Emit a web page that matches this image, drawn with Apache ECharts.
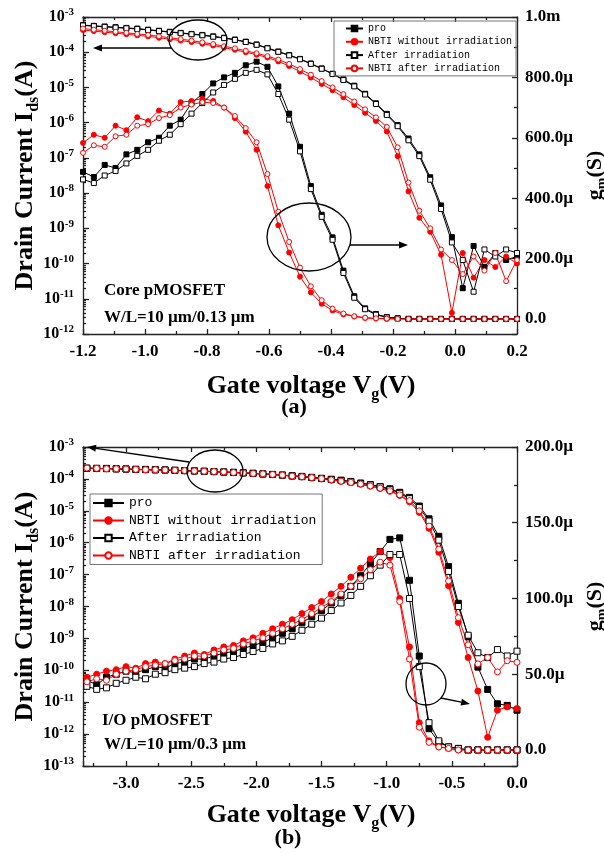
<!DOCTYPE html>
<html>
<head>
<meta charset="utf-8">
<script src="https://cdn.jsdelivr.net/npm/echarts@6/dist/echarts.min.js"></script>
<style>html,body{margin:0;padding:0;background:#fff}#chart{width:604px;height:854px}</style>
</head>
<body>
<div id="chart"></div>
<script>
// (a) Core pMOSFET: gate voltage (V)
const vgA = [-1.2, -1.165, -1.13, -1.095, -1.06, -1.025, -0.99, -0.955, -0.92, -0.885, -0.85, -0.815, -0.78, -0.745, -0.71, -0.675, -0.64, -0.605, -0.57, -0.535, -0.5, -0.465, -0.43, -0.395, -0.36, -0.325, -0.29, -0.255, -0.22, -0.185, -0.15, -0.115, -0.08, -0.045, -0.01, 0.025, 0.06, 0.095, 0.13, 0.165, 0.2];
// log10(Ids / A)
const idProA = [-3.23, -3.25, -3.27, -3.29, -3.31, -3.33, -3.36, -3.39, -3.42, -3.45, -3.48, -3.51, -3.55, -3.59, -3.64, -3.70, -3.78, -3.88, -3.98, -4.08, -4.19, -4.32, -4.46, -4.61, -4.77, -4.95, -5.18, -5.45, -5.75, -6.07, -6.45, -6.90, -7.55, -8.35, -9.25, -10.70, -9.50, -10.10, -9.70, -9.90, -9.80];
const idNbtiA = [-3.37, -3.40, -3.43, -3.46, -3.49, -3.52, -3.55, -3.59, -3.63, -3.67, -3.71, -3.76, -3.81, -3.87, -3.93, -4.00, -4.07, -4.15, -4.26, -4.39, -4.55, -4.72, -4.90, -5.08, -5.28, -5.50, -5.72, -5.95, -6.25, -6.95, -7.95, -8.70, -9.10, -9.75, -11.40, -9.70, -10.40, -9.90, -10.10, -9.80, -10.00];
const idAfterA = [-3.24, -3.26, -3.28, -3.30, -3.32, -3.34, -3.37, -3.40, -3.43, -3.46, -3.49, -3.52, -3.56, -3.60, -3.65, -3.71, -3.79, -3.89, -3.99, -4.09, -4.20, -4.33, -4.47, -4.62, -4.79, -4.97, -5.20, -5.47, -5.78, -6.10, -6.50, -6.95, -7.62, -8.45, -9.40, -9.90, -10.80, -9.60, -9.80, -9.60, -9.70];
const idNbtiAfterA = [-3.33, -3.36, -3.39, -3.42, -3.45, -3.48, -3.51, -3.55, -3.59, -3.63, -3.67, -3.72, -3.77, -3.83, -3.89, -3.96, -4.03, -4.11, -4.21, -4.33, -4.48, -4.64, -4.82, -5.00, -5.19, -5.40, -5.62, -5.85, -6.12, -6.70, -7.70, -8.50, -9.00, -9.60, -9.90, -10.30, -9.80, -10.20, -9.70, -10.50, -9.90];
// gm (µS)
const gmProA = [487, 470, 510, 500, 545, 560, 585, 600, 640, 660, 715, 745, 780, 800, 815, 840, 852, 835, 770, 680, 570, 440, 345, 270, 160, 75, 35, 16, 6, 2, 0, 0, 0, 0, 0, 0, 0, 0, 0, 0, 0];
const gmNbtiA = [583, 610, 600, 640, 625, 668, 655, 690, 680, 718, 722, 730, 722, 700, 665, 620, 560, 440, 310, 220, 140, 88, 50, 28, 15, 8, 3, 1, 0, 0, 0, 0, 0, 0, 0, 0, 0, 0, 0, 0, 0];
const gmAfterA = [462, 450, 475, 490, 515, 540, 560, 590, 610, 645, 680, 715, 750, 775, 795, 815, 825, 810, 745, 660, 555, 430, 338, 262, 152, 70, 32, 14, 5, 2, 0, 0, 0, 0, 0, 0, 0, 0, 0, 0, 0];
const gmNbtiAfterA = [550, 575, 570, 605, 610, 640, 645, 665, 675, 700, 710, 718, 715, 700, 672, 632, 585, 480, 355, 255, 170, 108, 62, 34, 18, 9, 4, 2, 1, 0, 0, 0, 0, 0, 0, 0, 0, 0, 0, 0, 0];
const gmTicksA = [0, 200, 400, 600, 800, 1000];

// (b) I/O pMOSFET
const vgB = [-3.3, -3.225, -3.15, -3.075, -3.0, -2.925, -2.85, -2.775, -2.7, -2.625, -2.55, -2.475, -2.4, -2.325, -2.25, -2.175, -2.1, -2.025, -1.95, -1.875, -1.8, -1.725, -1.65, -1.575, -1.5, -1.425, -1.35, -1.275, -1.2, -1.125, -1.05, -0.975, -0.9, -0.825, -0.75, -0.675, -0.6, -0.525, -0.45, -0.375, -0.3, -0.225, -0.15, -0.075, 0.0];
const idProB = [-3.66, -3.67, -3.67, -3.68, -3.69, -3.70, -3.70, -3.71, -3.72, -3.73, -3.74, -3.75, -3.76, -3.77, -3.78, -3.79, -3.81, -3.82, -3.84, -3.86, -3.88, -3.90, -3.92, -3.95, -3.98, -4.01, -4.04, -4.08, -4.13, -4.18, -4.24, -4.31, -4.42, -4.58, -4.85, -5.25, -5.80, -6.75, -7.90, -8.95, -9.90, -10.60, -11.05, -11.10, -11.25];
const idNbtiB = [-3.67, -3.68, -3.68, -3.69, -3.70, -3.71, -3.72, -3.72, -3.73, -3.74, -3.75, -3.76, -3.77, -3.78, -3.79, -3.81, -3.82, -3.84, -3.85, -3.87, -3.89, -3.92, -3.94, -3.97, -4.00, -4.04, -4.08, -4.12, -4.17, -4.23, -4.30, -4.39, -4.52, -4.72, -5.05, -5.55, -6.30, -7.35, -8.50, -9.60, -10.65, -12.10, -11.25, -11.15, -11.20];
const idAfterB = [-3.67, -3.67, -3.68, -3.69, -3.69, -3.70, -3.71, -3.72, -3.72, -3.73, -3.74, -3.75, -3.76, -3.77, -3.79, -3.80, -3.81, -3.83, -3.85, -3.86, -3.88, -3.91, -3.93, -3.96, -3.99, -4.02, -4.05, -4.09, -4.14, -4.19, -4.25, -4.33, -4.45, -4.62, -4.90, -5.32, -5.92, -6.90, -8.00, -8.90, -9.45, -9.60, -9.35, -9.55, -9.40];
const idNbtiAfterB = [-3.66, -3.67, -3.68, -3.68, -3.69, -3.70, -3.71, -3.71, -3.72, -3.73, -3.74, -3.75, -3.76, -3.77, -3.78, -3.80, -3.81, -3.83, -3.84, -3.86, -3.88, -3.91, -3.93, -3.96, -3.99, -4.03, -4.07, -4.11, -4.16, -4.22, -4.29, -4.37, -4.50, -4.68, -5.00, -5.48, -6.20, -7.20, -8.35, -9.20, -9.80, -9.60, -10.05, -9.70, -9.75];
const gmProB = [46, 43, 48, 50, 52, 51, 53, 55, 54, 57, 58, 60, 60, 62, 64, 65, 67, 69, 71, 74, 77, 80, 84, 88, 92, 97, 102, 108, 115, 123, 131, 139, 140, 112, 62, 14, 5, 2, 1, 0, 0, 0, 0, 0, 0];
const gmNbtiB = [48, 50, 52, 53, 55, 54, 57, 58, 57, 60, 62, 64, 63, 66, 68, 69, 72, 74, 77, 80, 83, 86, 90, 94, 98, 103, 108, 114, 120, 126, 131, 127, 100, 68, 18, 6, 2, 1, 0, 0, 0, 0, 0, 0, 0];
const gmAfterB = [42, 40, 41, 44, 46, 48, 47, 50, 51, 53, 54, 55, 57, 58, 60, 61, 63, 65, 67, 70, 72, 75, 79, 83, 87, 92, 97, 102, 108, 115, 122, 129, 129, 100, 55, 18, 6, 2, 1, 0, 0, 0, 0, 0, 0];
const gmNbtiAfterB = [45, 47, 46, 50, 52, 53, 55, 56, 57, 59, 60, 62, 62, 64, 66, 67, 70, 72, 74, 77, 80, 83, 86, 90, 94, 98, 103, 108, 113, 119, 124, 122, 98, 60, 15, 5, 2, 1, 0, 0, 0, 0, 0, 0, 0];
const gmTicksB = [0, 50, 100, 150, 200];
const vgTicksB = [-3.0, -2.5, -2.0, -1.5, -1.0, -0.5, 0.0];

const names = ['pro', 'NBTI without irradiation', 'After irradiation', 'NBTI after irradiation'];
const looks = [
  { color: '#000', symbol: 'rect', open: false },
  { color: '#f00', symbol: 'circle', open: false },
  { color: '#000', symbol: 'rect', open: true },
  { color: '#f00', symbol: 'circle', open: true }
];
const serif = 'Liberation Serif';
const mono = 'Liberation Mono';
const ink = '#222';

function mk(i, data, xi, yi, size) {
  const lk = looks[i];
  return {
    type: 'line', name: names[i], data: data, xAxisIndex: xi, yAxisIndex: yi,
    symbol: lk.symbol, symbolSize: size, showAllSymbol: true,
    lineStyle: { color: lk.color, width: 1 },
    itemStyle: { color: lk.open ? '#fff' : lk.color, borderColor: lk.color, borderWidth: 1 },
    emphasis: { disabled: true }
  };
}

const series = [];
[idProA, idNbtiA, idAfterA, idNbtiAfterA].forEach((e, i) =>
  series.push(mk(i, vgA.map((x, j) => [x, Math.pow(10, e[j])]), 0, 0, 5)));
[gmProA, gmNbtiA, gmAfterA, gmNbtiAfterA].forEach((g, i) =>
  series.push(mk(i, vgA.map((x, j) => [x, g[j]]), 0, 1, 5)));
[idProB, idNbtiB, idAfterB, idNbtiAfterB].forEach((e, i) =>
  series.push(mk(i, vgB.map((x, j) => [x, Math.pow(10, e[j])]), 2, 3, 6)));
[gmProB, gmNbtiB, gmAfterB, gmNbtiAfterB].forEach((g, i) =>
  series.push(mk(i, vgB.map((x, j) => [x, g[j]]), 2, 4, 6)));

// log minor ticks (2..9 in each decade), exponent space
function minorLog(lo, hi) {
  const v = [];
  for (let n = lo; n < hi; n++) for (let k = 2; k <= 9; k++) v.push(n + Math.log10(k));
  return v;
}

const lineSt = { color: ink, width: 1.3 };
const tickLab = { fontFamily: serif, fontWeight: 'bold', fontSize: 17, color: '#000' };
const subRich = { s: { fontFamily: serif, fontWeight: 'bold', fontSize: 16, lineHeight: 16, verticalAlign: 'bottom', color: '#000' } };
const titleSt = { fontFamily: serif, fontWeight: 'bold', fontSize: 26, lineHeight: 34, color: '#000', rich: subRich };
const rightTitleSt = { fontFamily: serif, fontWeight: 'bold', fontSize: 22, lineHeight: 28, color: '#000',
  rich: { s: { fontFamily: serif, fontWeight: 'bold', fontSize: 14, lineHeight: 14, verticalAlign: 'bottom', color: '#000' } } };
const logLabel = {
  margin: 9,
  formatter: v => '{b|10}{s|' + Math.round(Math.log10(v)) + '}',
  rich: {
    b: { fontFamily: serif, fontWeight: 'bold', fontSize: 16, lineHeight: 20, color: '#000' },
    s: { fontFamily: serif, fontWeight: 'bold', fontSize: 11, lineHeight: 11, verticalAlign: 'top', color: '#000' }
  }
};
const gmFmt = v => v === 0 ? '0.0' : (v >= 1000 ? (v / 1000).toFixed(1) + 'm' : v.toFixed(1) + 'µ');

function xBottom(grid, min, max, interval, labelValues, gap) {
  return {
    gridIndex: grid, type: 'value', position: 'bottom', min: min, max: max, interval: interval,
    axisLine: { onZero: false, lineStyle: lineSt },
    axisTick: { inside: true, length: 5, lineStyle: lineSt },
    minorTick: { show: true, splitNumber: 2, length: 3, lineStyle: lineSt },
    splitLine: { show: false },
    axisLabel: Object.assign({ margin: 9, formatter: v => v.toFixed(1), customValues: labelValues }, tickLab),
    name: 'Gate voltage V{s|g}(V)', nameLocation: 'middle', nameGap: gap, nameMoveOverlap: false,
    nameTextStyle: Object.assign({ padding: [0, 0, 0, 22] }, titleSt)
  };
}
function xTop(grid, min, max, interval) {
  return {
    gridIndex: grid, type: 'value', position: 'top', min: min, max: max, interval: interval,
    axisLine: { onZero: false, lineStyle: lineSt },
    axisTick: { inside: true, length: 5, lineStyle: lineSt },
    minorTick: { show: true, splitNumber: 2, length: 3, lineStyle: lineSt },
    splitLine: { show: false }, axisLabel: { show: false }
  };
}
function yLog(grid, min, max, split) {
  return {
    gridIndex: grid, type: 'log', logBase: 10, position: 'left', min: min, max: max, splitNumber: split,
    axisLine: { onZero: false, lineStyle: lineSt },
    axisTick: { inside: true, length: 6, lineStyle: lineSt },
    splitLine: { show: false }, axisLabel: logLabel,
    name: 'Drain Current I{s|ds}(A)', nameLocation: 'middle', nameRotate: 90, nameGap: 41, nameMoveOverlap: false,
    nameTextStyle: titleSt
  };
}
function yMinor(grid, lo, hi) {
  return {
    gridIndex: grid, type: 'value', position: 'left', min: lo, max: hi,
    axisLine: { show: false, onZero: false },
    axisTick: { show: true, inside: true, length: 3, lineStyle: lineSt, customValues: minorLog(lo, hi) },
    splitLine: { show: false }, axisLabel: { show: false }
  };
}
function yGm(grid, min, max, labelValues) {
  return {
    gridIndex: grid, type: 'value', position: 'right', min: min, max: max,
    axisLine: { onZero: false, lineStyle: lineSt },
    axisTick: { inside: true, length: 5, lineStyle: lineSt },
    minorTick: { show: true, splitNumber: 2, length: 3, lineStyle: lineSt },
    splitLine: { show: false },
    axisLabel: Object.assign({ margin: 8, formatter: gmFmt, customValues: labelValues }, tickLab),
    name: 'g{s|m}(S)', nameLocation: 'middle', nameRotate: 90, nameGap: 64, nameMoveOverlap: false,
    nameTextStyle: rightTitleSt
  };
}

function legendAt(left, top, pad, itemW, itemH, gap, fontSize, lh) {
  return {
    data: names, orient: 'vertical', left: left, top: top, padding: pad,
    itemWidth: itemW, itemHeight: itemH, itemGap: gap, selectedMode: false,
    borderColor: '#777', borderWidth: 1,
    textStyle: { fontFamily: mono, fontSize: fontSize, lineHeight: lh, color: '#000' }
  };
}

function arrow(x1, y1, x2, y2) {
  const a = Math.atan2(y2 - y1, x2 - x1), L = 9, W = 3.5;
  const bx = x2 - L * Math.cos(a), by = y2 - L * Math.sin(a);
  return [
    { type: 'line', z: 100, shape: { x1: x1, y1: y1, x2: bx, y2: by }, style: { stroke: '#000', lineWidth: 1.3 } },
    { type: 'polygon', z: 100, shape: { points: [[x2, y2], [bx - W * Math.sin(a), by + W * Math.cos(a)], [bx + W * Math.sin(a), by - W * Math.cos(a)]] }, style: { fill: '#000' } }
  ];
}
function oval(cx, cy, rx, ry) {
  return { type: 'ellipse', z: 100, shape: { cx: cx, cy: cy, rx: rx, ry: ry }, style: { fill: 'none', stroke: '#000', lineWidth: 1.3 } };
}
function label(x, y, text, size, align) {
  return { type: 'text', z: 100, style: { x: x, y: y, text: text, font: 'bold ' + size + 'px "' + serif + '"', fill: '#000', textAlign: align || 'left', textVerticalAlign: 'middle' } };
}

const chart = echarts.init(document.getElementById('chart'));
chart.setOption({
  animation: false,
  backgroundColor: '#fff',
  grid: [
    { left: 83, right: 87, top: 17, height: 317, containLabel: false, outerBoundsMode: 'none' },
    { left: 83, right: 87, top: 447, height: 319, containLabel: false, outerBoundsMode: 'none' }
  ],
  xAxis: [
    xBottom(0, -1.2, 0.2, 0.2, null, 35),
    xTop(0, -1.2, 0.2, 0.2),
    xBottom(1, -3.33, 0, null, vgTicksB, 32),
    xTop(1, -3.33, 0, null)
  ],
  yAxis: [
    yLog(0, 1e-12, 1e-3, 9),
    yGm(0, -50, 1000, gmTicksA),
    yMinor(0, -12, -3),
    yLog(1, 1e-13, 1e-3, 10),
    yGm(1, -10.6, 200, gmTicksB),
    yMinor(1, -13, -3)
  ],
  legend: [
    legendAt(334, 21, [2.5, 4, 2.5, 11], 17, 7, 3.3, 10, 10),
    legendAt(90, 494, [2, 6, 2, 2], 31, 8, 3.5, 13, 14)
  ],
  series: series,
  graphic: [
    oval(198, 40, 29, 20), ...arrow(171, 48, 93, 48),
    oval(309, 237, 42, 34), ...arrow(350, 245, 408, 245),
    oval(215, 471, 28, 21), ...arrow(189, 462, 87, 447),
    oval(426, 684, 20, 21), ...arrow(441, 698, 470, 704),
    label(104, 291, 'Core pMOSFET', 17),
    label(104, 318, 'W/L=10 µm/0.13 µm', 17),
    label(102, 721, 'I/O pMOSFET', 17),
    label(104, 745, 'W/L=10 µm/0.3 µm', 17),
    label(294, 407, '(a)', 22, 'center'),
    label(288, 838, '(b)', 22, 'center')
  ]
});
</script>
</body>
</html>
